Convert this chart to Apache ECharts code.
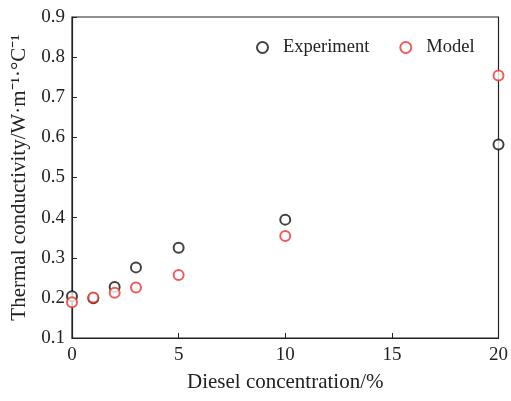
<!DOCTYPE html>
<html><head><meta charset="utf-8">
<script src="https://cdn.jsdelivr.net/npm/echarts@6/dist/echarts.min.js"></script>
<style>html,body{margin:0;padding:0;background:#fff}#c{width:511px;height:401px}</style>
</head><body><div id="c"></div>
<script>
const concentration = [0, 1, 2, 3, 5, 10, 20];
const experiment = [0.204, 0.199, 0.227, 0.276, 0.325, 0.395, 0.582];
const model = [0.189, 0.201, 0.213, 0.226, 0.257, 0.354, 0.754];
const xTicks = [0, 5, 10, 15, 20];
const yTicks = [0.1, 0.2, 0.3, 0.4, 0.5, 0.6, 0.7, 0.8, 0.9];

const font = 'Liberation Serif, Times New Roman, serif';
const chart = echarts.init(document.getElementById('c'));
chart.setOption({
  animation: false,
  backgroundColor: '#fff',
  grid: { left: 72, right: 8, top: 17, bottom: 63, show: true, borderColor: '#222', borderWidth: 1.2 },
  legend: {
    top: 33, left: 251, itemGap: 30, itemWidth: 11, itemHeight: 11,
    textStyle: { fontFamily: font, fontSize: 18.5, color: '#222', padding: [0, 0, 0, 10] },
    data: ['Experiment', 'Model']
  },
  xAxis: {
    type: 'value', min: 0, max: 20, interval: 5,
    name: 'Diesel concentration/%', nameLocation: 'middle', nameGap: 34,
    nameTextStyle: { fontFamily: font, fontSize: 21, color: '#222' },
    axisLine: { lineStyle: { color: '#222', width: 1.2 } },
    axisTick: { inside: true, length: 5, lineStyle: { color: '#222' } },
    axisLabel: { fontFamily: font, fontSize: 19, color: '#222', margin: 8,
      formatter: v => xTicks.includes(v) ? String(v) : '' },
    splitLine: { show: false }
  },
  yAxis: {
    type: 'value', min: 0.1, max: 0.9, interval: 0.1,
    name: 'Thermal conductivity/W·m⁻¹·°C⁻¹', nameLocation: 'middle', nameGap: 36, nameRotate: 90,
    nameTextStyle: { fontFamily: font, fontSize: 21, color: '#222' },
    axisLine: { lineStyle: { color: '#222', width: 1.2 } },
    axisTick: { inside: true, length: 5, lineStyle: { color: '#222' } },
    axisLabel: { fontFamily: font, fontSize: 19, color: '#222', margin: 7,
      formatter: v => { const t = yTicks.find(y => Math.abs(y - v) < 1e-6); return t !== undefined ? t.toFixed(1) : ''; } },
    splitLine: { show: false }
  },
  series: [
    { name: 'Experiment', type: 'scatter', symbol: 'emptyCircle', symbolSize: 10,
      itemStyle: { color: '#111', borderColor: '#111', borderWidth: 1.4 },
      data: concentration.map((c, i) => [c, experiment[i]]) },
    { name: 'Model', type: 'scatter', symbol: 'emptyCircle', symbolSize: 10,
      itemStyle: { color: '#e8362c', borderColor: '#e8362c', borderWidth: 1.4 },
      data: concentration.map((c, i) => [c, model[i]]) }
  ]
});
</script></body></html>
